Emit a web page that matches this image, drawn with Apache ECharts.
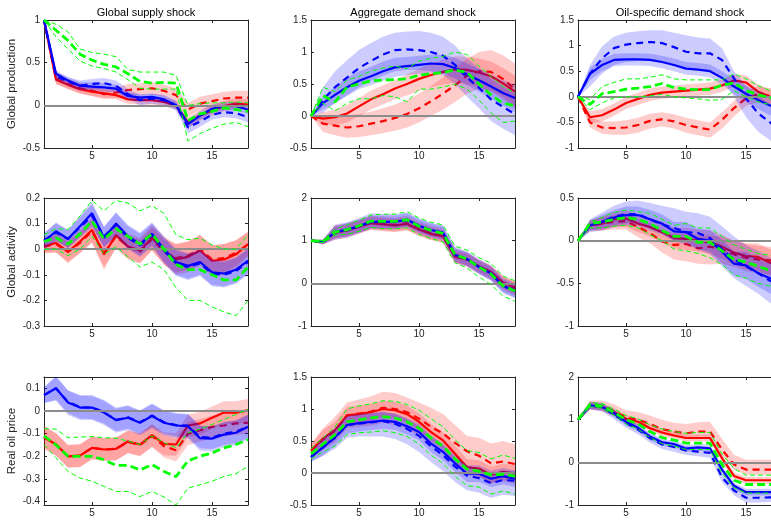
<!DOCTYPE html>
<html>
<head>
<meta charset="utf-8">
<title>Impulse responses</title>
<script src="https://cdn.jsdelivr.net/npm/echarts@6.0.0/dist/echarts.min.js"></script>
<style>
  html, body { margin: 0; padding: 0; background: #fff; }
  #chart { width: 771px; height: 527px; }
</style>
</head>
<body>
<div id="chart"></div>
<script>
// horizon (months after the shock)
const steps = [1, 2, 3, 4, 5, 6, 7, 8, 9, 10, 11, 12, 13, 14, 15, 16, 17, 18];
const xTicks = [5, 10, 15];
const columnTitles = ['Global supply shock', 'Aggregate demand shock', 'Oil-specific demand shock'];
const rowNames = ['Global production', 'Global activity', 'Real oil price'];

// naming: pRC = row R, column C; bs/bd = blue solid/dashed, rs/rd = red solid/dashed, g = green
// ---- row 1: global production ----
const p11range = [-0.5, 1], p11ticks = [-0.5, 0, 0.5, 1];
const p11bs = [1, 0.37, 0.29, 0.23, 0.22, 0.21, 0.195, 0.11, 0.09, 0.10, 0.07, 0.0, -0.22, -0.12, -0.04, -0.01, -0.01, -0.05];
const p11bsLo = [1, 0.33, 0.25, 0.19, 0.17, 0.16, 0.15, 0.07, 0.05, 0.06, 0.03, -0.04, -0.27, -0.17, -0.09, -0.06, -0.06, -0.10];
const p11bsHi = [1, 0.41, 0.33, 0.27, 0.27, 0.26, 0.24, 0.15, 0.13, 0.14, 0.11, 0.04, -0.17, -0.07, 0.01, 0.04, 0.04, 0.0];
const p11bd = [1, 0.34, 0.28, 0.23, 0.25, 0.26, 0.23, 0.13, 0.06, 0.08, 0.06, 0.0, -0.26, -0.19, -0.11, -0.08, -0.09, -0.14];
const p11bdLo = [1, 0.29, 0.23, 0.17, 0.19, 0.19, 0.17, 0.07, 0.0, 0.02, 0.0, -0.06, -0.33, -0.25, -0.17, -0.14, -0.15, -0.2];
const p11bdHi = [1, 0.39, 0.33, 0.29, 0.31, 0.32, 0.29, 0.19, 0.12, 0.14, 0.12, 0.06, -0.19, -0.12, -0.05, -0.02, -0.03, -0.08];
const p11rs = [1, 0.30, 0.24, 0.19, 0.16, 0.14, 0.12, 0.07, 0.06, 0.06, 0.04, 0.0, -0.2, -0.12, -0.06, -0.01, 0.02, 0.01];
const p11rsLo = [1, 0.25, 0.19, 0.14, 0.11, 0.09, 0.07, 0.02, 0.01, 0.01, -0.01, -0.05, -0.26, -0.18, -0.12, -0.07, -0.04, -0.05];
const p11rsHi = [1, 0.35, 0.29, 0.24, 0.21, 0.19, 0.17, 0.12, 0.11, 0.11, 0.09, 0.05, -0.14, -0.06, 0.0, 0.05, 0.08, 0.07];
const p11rd = [1, 0.31, 0.25, 0.2, 0.17, 0.13, 0.15, 0.18, 0.19, 0.2, 0.17, 0.12, -0.05, 0.02, 0.05, 0.08, 0.09, 0.09];
const p11rdLo = [1, 0.25, 0.19, 0.14, 0.11, 0.07, 0.09, 0.11, 0.12, 0.13, 0.1, 0.04, -0.13, -0.06, -0.03, 0.0, 0.01, 0.01];
const p11rdHi = [1, 0.37, 0.31, 0.26, 0.23, 0.19, 0.21, 0.25, 0.26, 0.27, 0.24, 0.2, 0.03, 0.1, 0.13, 0.16, 0.17, 0.17];
const p11g = [1, 0.88, 0.76, 0.6, 0.53, 0.48, 0.45, 0.37, 0.28, 0.26, 0.27, 0.26, -0.18, -0.1, -0.07, -0.03, -0.05, -0.07];
const p11gLo = [1, 0.8, 0.66, 0.52, 0.46, 0.43, 0.39, 0.3, 0.2, 0.19, 0.19, 0.19, -0.42, -0.33, -0.27, -0.22, -0.2, -0.25];
const p11gHi = [1, 0.95, 0.86, 0.66, 0.62, 0.6, 0.57, 0.42, 0.39, 0.39, 0.39, 0.35, 0.0, 0.02, 0.03, 0.03, 0.04, 0.03];

const p12range = [-0.5, 1.5], p12ticks = [-0.5, 0, 0.5, 1, 1.5];
const p12bs = [0, 0.2, 0.33, 0.45, 0.55, 0.62, 0.7, 0.76, 0.78, 0.8, 0.82, 0.81, 0.75, 0.65, 0.56, 0.46, 0.36, 0.28];
const p12bsLo = [0, 0.1, 0.2, 0.31, 0.42, 0.48, 0.55, 0.61, 0.64, 0.66, 0.68, 0.66, 0.59, 0.48, 0.38, 0.27, 0.16, 0.07];
const p12bsHi = [0, 0.3, 0.46, 0.6, 0.7, 0.77, 0.85, 0.91, 0.92, 0.94, 0.96, 0.96, 0.91, 0.82, 0.74, 0.65, 0.56, 0.49];
const p12bd = [0, 0.25, 0.45, 0.6, 0.75, 0.86, 0.96, 1.03, 1.04, 1.03, 1.0, 0.94, 0.8, 0.6, 0.44, 0.26, 0.14, 0.03];
const p12bdLo = [0, 0.05, 0.2, 0.33, 0.45, 0.55, 0.63, 0.7, 0.72, 0.72, 0.7, 0.64, 0.5, 0.3, 0.12, -0.08, -0.2, -0.3];
const p12bdHi = [0, 0.45, 0.7, 0.87, 1.03, 1.14, 1.24, 1.3, 1.32, 1.33, 1.3, 1.24, 1.1, 0.9, 0.75, 0.58, 0.46, 0.35];
const p12rs = [0, -0.04, -0.02, 0.04, 0.15, 0.26, 0.34, 0.43, 0.5, 0.58, 0.64, 0.69, 0.73, 0.72, 0.68, 0.62, 0.51, 0.38];
const p12rsLo = [0, -0.14, -0.14, -0.1, 0.0, 0.1, 0.18, 0.26, 0.32, 0.39, 0.45, 0.49, 0.52, 0.5, 0.45, 0.38, 0.26, 0.12];
const p12rsHi = [0, 0.06, 0.1, 0.17, 0.28, 0.4, 0.48, 0.56, 0.65, 0.74, 0.82, 0.88, 0.93, 0.93, 0.9, 0.85, 0.75, 0.63];
const p12rd = [0, -0.12, -0.15, -0.18, -0.16, -0.12, -0.08, -0.03, 0.03, 0.12, 0.23, 0.35, 0.48, 0.63, 0.7, 0.69, 0.58, 0.42];
const p12rdLo = [0, -0.25, -0.3, -0.34, -0.33, -0.3, -0.27, -0.23, -0.18, -0.1, 0.0, 0.1, 0.22, 0.35, 0.42, 0.4, 0.3, 0.14];
const p12rdHi = [0, 0.0, 0.01, 0.0, 0.03, 0.07, 0.12, 0.18, 0.25, 0.35, 0.47, 0.6, 0.75, 0.9, 1.0, 1.03, 0.95, 0.82];
const p12g = [0, 0.32, 0.22, 0.45, 0.5, 0.55, 0.56, 0.57, 0.58, 0.64, 0.66, 0.68, 0.72, 0.68, 0.5, 0.33, 0.2, 0.16];
const p12gLo = [0, 0.2, 0.08, 0.2, 0.27, 0.27, 0.32, 0.3, 0.22, 0.42, 0.42, 0.45, 0.5, 0.42, 0.25, 0.05, -0.1, -0.08];
const p12gHi = [0, 0.45, 0.38, 0.56, 0.62, 0.7, 0.75, 0.78, 0.74, 0.86, 0.9, 0.93, 1.0, 0.96, 0.78, 0.62, 0.46, 0.36];

const p13range = [-1, 1.5], p13ticks = [-1, -0.5, 0, 0.5, 1, 1.5];
const p13bs = [0, 0.45, 0.62, 0.72, 0.73, 0.73, 0.72, 0.68, 0.62, 0.55, 0.53, 0.5, 0.37, 0.2, 0.06, -0.06, -0.17, -0.22];
const p13bsLo = [0, 0.33, 0.5, 0.6, 0.61, 0.61, 0.6, 0.56, 0.5, 0.43, 0.41, 0.38, 0.24, 0.05, -0.1, -0.24, -0.36, -0.42];
const p13bsHi = [0, 0.57, 0.74, 0.84, 0.85, 0.85, 0.84, 0.8, 0.75, 0.68, 0.66, 0.63, 0.5, 0.35, 0.22, 0.12, 0.02, -0.02];
const p13bd = [0, 0.45, 0.75, 0.95, 1.02, 1.05, 1.07, 1.05, 0.97, 0.88, 0.85, 0.85, 0.72, 0.36, -0.03, -0.32, -0.5, -0.68];
const p13bdLo = [0, 0.2, 0.45, 0.62, 0.68, 0.7, 0.72, 0.7, 0.63, 0.56, 0.53, 0.5, 0.36, 0.0, -0.4, -0.68, -0.85, -1.0];
const p13bdHi = [0, 0.62, 0.98, 1.18, 1.25, 1.28, 1.3, 1.3, 1.25, 1.2, 1.16, 1.14, 0.95, 0.5, 0.22, 0.02, -0.15, -0.3];
const p13rs = [0, -0.4, -0.36, -0.25, -0.12, -0.04, 0.04, 0.08, 0.1, 0.12, 0.14, 0.16, 0.22, 0.32, 0.28, 0.1, 0.0, -0.1];
const p13rsLo = [0, -0.52, -0.48, -0.37, -0.24, -0.16, -0.08, -0.04, -0.02, 0.0, 0.02, 0.04, 0.1, 0.2, 0.14, -0.04, -0.15, -0.26];
const p13rsHi = [0, -0.28, -0.24, -0.13, 0.0, 0.08, 0.16, 0.2, 0.22, 0.24, 0.26, 0.28, 0.34, 0.44, 0.42, 0.24, 0.14, 0.06];
const p13rd = [0, -0.5, -0.6, -0.61, -0.6, -0.55, -0.47, -0.44, -0.48, -0.55, -0.6, -0.64, -0.45, -0.22, -0.03, 0.05, 0.02, -0.02];
const p13rdLo = [0, -0.6, -0.72, -0.74, -0.74, -0.7, -0.62, -0.58, -0.62, -0.7, -0.75, -0.8, -0.62, -0.38, -0.18, -0.1, -0.13, -0.17];
const p13rdHi = [0, -0.4, -0.48, -0.48, -0.46, -0.41, -0.33, -0.3, -0.34, -0.41, -0.46, -0.5, -0.3, -0.08, 0.12, 0.2, 0.17, 0.13];
const p13g = [0, -0.15, 0.06, 0.1, 0.15, 0.17, 0.2, 0.26, 0.18, 0.15, 0.14, 0.14, 0.23, 0.27, 0.12, 0.04, -0.02, -0.05];
const p13gLo = [0, -0.25, -0.12, -0.02, 0.0, 0.0, 0.02, 0.05, 0.0, -0.02, -0.04, -0.07, -0.05, 0.12, 0.0, -0.1, -0.15, -0.18];
const p13gHi = [0, -0.05, 0.2, 0.28, 0.35, 0.35, 0.38, 0.43, 0.35, 0.33, 0.33, 0.33, 0.33, 0.45, 0.35, 0.22, 0.12, 0.06];

// ---- row 2: global activity ----
const p21range = [-0.3, 0.2], p21ticks = [-0.3, -0.2, -0.1, 0, 0.1, 0.2];
const p21bs = [0.03, 0.07, 0.04, 0.09, 0.14, 0.045, 0.1, 0.05, 0.02, 0.06, 0.0, -0.05, -0.065, -0.05, -0.09, -0.095, -0.08, -0.045];
const p21bsLo = [0.0, 0.035, 0.005, 0.05, 0.095, 0.005, 0.055, 0.005, -0.025, 0.015, -0.05, -0.1, -0.115, -0.1, -0.14, -0.145, -0.13, -0.095];
const p21bsHi = [0.06, 0.105, 0.075, 0.13, 0.185, 0.085, 0.145, 0.095, 0.065, 0.105, 0.05, 0.0, -0.015, 0.0, -0.04, -0.045, -0.03, 0.005];
const p21bd = [0.035, 0.065, 0.04, 0.085, 0.13, 0.05, 0.095, 0.045, 0.015, 0.055, -0.005, -0.055, -0.07, -0.055, -0.095, -0.1, -0.085, -0.05];
const p21bdLo = [0.005, 0.03, 0.005, 0.045, 0.085, 0.01, 0.05, 0.0, -0.03, 0.01, -0.055, -0.105, -0.12, -0.105, -0.145, -0.15, -0.135, -0.1];
const p21bdHi = [0.065, 0.1, 0.075, 0.125, 0.175, 0.09, 0.14, 0.09, 0.06, 0.1, 0.045, -0.005, -0.02, -0.005, -0.045, -0.05, -0.035, 0.0];
const p21rs = [0.01, 0.025, -0.01, 0.03, 0.075, -0.02, 0.055, 0.01, -0.005, 0.045, -0.005, -0.04, -0.03, -0.005, -0.045, -0.04, -0.02, 0.02];
const p21rsLo = [-0.015, -0.01, -0.055, -0.015, 0.025, -0.08, 0.005, -0.04, -0.055, -0.005, -0.06, -0.1, -0.09, -0.065, -0.105, -0.1, -0.075, -0.03];
const p21rsHi = [0.035, 0.06, 0.035, 0.075, 0.125, 0.04, 0.105, 0.06, 0.045, 0.095, 0.05, 0.02, 0.03, 0.055, 0.015, 0.02, 0.035, 0.07];
const p21rd = [0.01, 0.02, -0.01, 0.025, 0.07, -0.015, 0.05, 0.01, -0.01, 0.04, -0.01, -0.035, -0.025, 0.0, -0.04, -0.035, -0.015, 0.02];
const p21rdLo = [-0.015, -0.015, -0.05, -0.015, 0.025, -0.07, 0.005, -0.035, -0.055, -0.005, -0.06, -0.09, -0.08, -0.055, -0.095, -0.09, -0.065, -0.025];
const p21rdHi = [0.035, 0.055, 0.03, 0.065, 0.115, 0.04, 0.095, 0.055, 0.035, 0.085, 0.04, 0.02, 0.03, 0.055, 0.015, 0.02, 0.035, 0.065];
const p21g = [0.03, 0.045, 0.02, 0.06, 0.11, 0.04, 0.08, 0.05, 0.02, 0.06, 0.0, -0.06, -0.08, -0.08, -0.1, -0.12, -0.12, -0.07];
const p21gLo = [0.0, 0.0, -0.025, 0.0, 0.05, -0.02, 0.01, -0.03, -0.07, -0.05, -0.08, -0.15, -0.2, -0.2, -0.225, -0.245, -0.26, -0.2];
const p21gHi = [0.056, 0.08, 0.077, 0.13, 0.19, 0.15, 0.19, 0.18, 0.15, 0.17, 0.14, 0.056, 0.037, 0.043, 0.017, 0.0, 0.0, 0.056];

const p22range = [-1, 2], p22ticks = [-1, 0, 1, 2];
const p22bs = [1.0, 0.97, 1.2, 1.26, 1.34, 1.44, 1.44, 1.44, 1.49, 1.35, 1.25, 1.19, 0.67, 0.57, 0.38, 0.23, -0.06, -0.18];
const p22bsLo = [0.98, 0.92, 1.06, 1.11, 1.19, 1.29, 1.29, 1.29, 1.34, 1.2, 1.1, 1.04, 0.52, 0.42, 0.23, 0.08, -0.21, -0.33];
const p22bsHi = [1.02, 1.02, 1.34, 1.41, 1.49, 1.59, 1.59, 1.59, 1.64, 1.5, 1.4, 1.34, 0.82, 0.72, 0.53, 0.38, 0.09, -0.03];
const p22bd = [1.0, 0.97, 1.2, 1.25, 1.35, 1.46, 1.45, 1.44, 1.48, 1.34, 1.24, 1.18, 0.67, 0.57, 0.39, 0.24, -0.05, -0.17];
const p22bdLo = [0.98, 0.91, 1.02, 1.07, 1.17, 1.28, 1.27, 1.26, 1.3, 1.16, 1.06, 1.0, 0.49, 0.39, 0.21, 0.06, -0.23, -0.35];
const p22bdHi = [1.02, 1.03, 1.38, 1.43, 1.53, 1.64, 1.63, 1.62, 1.66, 1.52, 1.42, 1.36, 0.85, 0.75, 0.57, 0.42, 0.13, 0.01];
const p22rs = [1.0, 0.97, 1.19, 1.24, 1.33, 1.41, 1.38, 1.36, 1.39, 1.26, 1.16, 1.1, 0.62, 0.56, 0.4, 0.27, 0.02, -0.1];
const p22rsLo = [0.98, 0.92, 1.05, 1.1, 1.19, 1.27, 1.24, 1.22, 1.25, 1.12, 1.02, 0.96, 0.48, 0.42, 0.26, 0.13, -0.12, -0.24];
const p22rsHi = [1.02, 1.02, 1.33, 1.38, 1.47, 1.55, 1.52, 1.5, 1.53, 1.4, 1.3, 1.24, 0.76, 0.7, 0.54, 0.41, 0.16, 0.04];
const p22rd = [1.0, 0.97, 1.19, 1.24, 1.33, 1.42, 1.39, 1.37, 1.41, 1.28, 1.18, 1.12, 0.64, 0.56, 0.39, 0.25, 0.0, -0.12];
const p22rdLo = [0.98, 0.91, 1.02, 1.07, 1.16, 1.25, 1.22, 1.2, 1.24, 1.11, 1.01, 0.95, 0.47, 0.39, 0.22, 0.08, -0.17, -0.29];
const p22rdHi = [1.02, 1.03, 1.36, 1.41, 1.5, 1.59, 1.56, 1.54, 1.58, 1.45, 1.35, 1.29, 0.81, 0.73, 0.56, 0.42, 0.17, 0.05];
const p22g = [1.0, 0.98, 1.2, 1.26, 1.35, 1.46, 1.45, 1.45, 1.49, 1.34, 1.24, 1.17, 0.67, 0.57, 0.38, 0.22, -0.06, -0.18];
const p22gLo = [1.0, 0.95, 1.13, 1.15, 1.22, 1.31, 1.28, 1.28, 1.3, 1.15, 1.05, 0.97, 0.48, 0.36, 0.15, -0.03, -0.3, -0.42];
const p22gHi = [1.0, 1.0, 1.27, 1.37, 1.48, 1.6, 1.62, 1.62, 1.68, 1.53, 1.43, 1.37, 0.87, 0.78, 0.6, 0.47, 0.17, 0.06];

const p23range = [-1, 0.5], p23ticks = [-1, -0.5, 0, 0.5];
const p23bs = [0, 0.18, 0.22, 0.27, 0.3, 0.3, 0.25, 0.2, 0.11, 0.1, 0.02, 0.0, -0.13, -0.27, -0.29, -0.38, -0.44, -0.5];
const p23bsLo = [0, 0.12, 0.14, 0.18, 0.2, 0.2, 0.14, 0.09, 0.0, -0.02, -0.1, -0.13, -0.27, -0.41, -0.45, -0.54, -0.62, -0.68];
const p23bsHi = [0, 0.24, 0.3, 0.36, 0.4, 0.4, 0.36, 0.31, 0.22, 0.22, 0.14, 0.13, 0.01, -0.13, -0.13, -0.22, -0.26, -0.32];
const p23bd = [0, 0.18, 0.22, 0.28, 0.31, 0.31, 0.25, 0.19, 0.15, 0.1, 0.09, 0.03, -0.1, -0.22, -0.3, -0.38, -0.47, -0.52];
const p23bdLo = [0, 0.1, 0.12, 0.16, 0.18, 0.17, 0.12, 0.07, 0.0, -0.05, -0.1, -0.16, -0.3, -0.44, -0.53, -0.62, -0.73, -0.78];
const p23bdHi = [0, 0.25, 0.33, 0.41, 0.46, 0.47, 0.44, 0.41, 0.38, 0.34, 0.32, 0.28, 0.17, 0.05, -0.05, -0.12, -0.2, -0.25];
const p23rs = [0, 0.18, 0.2, 0.25, 0.26, 0.2, 0.16, 0.1, 0.03, 0.02, 0.0, -0.02, -0.07, -0.14, -0.18, -0.19, -0.26, -0.27];
const p23rsLo = [0, 0.12, 0.12, 0.16, 0.16, 0.1, 0.05, -0.02, -0.09, -0.11, -0.13, -0.16, -0.21, -0.28, -0.33, -0.35, -0.42, -0.44];
const p23rsHi = [0, 0.24, 0.28, 0.34, 0.36, 0.3, 0.27, 0.22, 0.15, 0.15, 0.13, 0.12, 0.07, 0.0, -0.03, -0.03, -0.1, -0.1];
const p23rd = [0, 0.18, 0.2, 0.22, 0.23, 0.16, 0.09, -0.01, -0.05, -0.04, -0.09, -0.07, -0.1, -0.16, -0.2, -0.22, -0.23, -0.25];
const p23rdLo = [0, 0.12, 0.12, 0.13, 0.13, 0.04, -0.03, -0.14, -0.22, -0.24, -0.27, -0.28, -0.27, -0.31, -0.36, -0.38, -0.4, -0.42];
const p23rdHi = [0, 0.24, 0.27, 0.3, 0.32, 0.25, 0.2, 0.11, 0.08, 0.09, 0.06, 0.06, 0.05, 0.0, -0.04, -0.06, -0.07, -0.08];
const p23g = [0, 0.2, 0.22, 0.25, 0.27, 0.25, 0.2, 0.12, 0.05, 0.05, -0.02, -0.02, -0.12, -0.22, -0.25, -0.3, -0.35, -0.37];
const p23gLo = [0, 0.15, 0.15, 0.17, 0.18, 0.15, 0.07, 0.0, -0.1, -0.12, -0.15, -0.2, -0.28, -0.4, -0.44, -0.5, -0.53, -0.55];
const p23gHi = [0, 0.22, 0.27, 0.33, 0.36, 0.34, 0.32, 0.25, 0.18, 0.2, 0.15, 0.15, 0.05, -0.05, -0.1, -0.15, -0.17, -0.2];

// ---- row 3: real oil price ----
const p31range = [-0.415, 0.15], p31ticks = [-0.4, -0.3, -0.2, -0.1, 0, 0.1];
const p31bs = [0.07, 0.1, 0.037, 0.015, 0.015, -0.007, -0.04, -0.03, -0.052, -0.022, -0.052, -0.064, -0.067, -0.12, -0.122, -0.104, -0.096, -0.07];
const p31bsLo = [0.035, 0.045, -0.018, -0.04, -0.04, -0.062, -0.095, -0.085, -0.107, -0.077, -0.107, -0.119, -0.122, -0.175, -0.177, -0.159, -0.151, -0.125];
const p31bsHi = [0.105, 0.155, 0.092, 0.07, 0.07, 0.048, 0.015, 0.025, 0.003, 0.033, 0.003, -0.009, -0.012, -0.065, -0.067, -0.049, -0.041, -0.015];
const p31bd = [0.07, 0.1, 0.04, 0.017, 0.015, -0.005, -0.04, -0.028, -0.05, -0.02, -0.05, -0.062, -0.065, -0.115, -0.118, -0.1, -0.092, -0.068];
const p31bdLo = [0.035, 0.05, -0.01, -0.033, -0.035, -0.055, -0.09, -0.078, -0.1, -0.07, -0.1, -0.112, -0.115, -0.165, -0.168, -0.15, -0.142, -0.118];
const p31bdHi = [0.105, 0.15, 0.09, 0.067, 0.065, 0.045, 0.01, 0.022, 0.0, 0.03, 0.0, -0.012, -0.015, -0.065, -0.068, -0.05, -0.042, -0.018];
const p31rs = [-0.116, -0.148, -0.2, -0.197, -0.163, -0.17, -0.167, -0.135, -0.148, -0.107, -0.145, -0.148, -0.064, -0.055, -0.03, -0.007, -0.007, 0.003];
const p31rsLo = [-0.166, -0.198, -0.25, -0.247, -0.213, -0.22, -0.217, -0.185, -0.198, -0.157, -0.195, -0.198, -0.114, -0.105, -0.08, -0.057, -0.057, -0.047];
const p31rsHi = [-0.066, -0.098, -0.15, -0.147, -0.113, -0.12, -0.117, -0.085, -0.098, -0.057, -0.095, -0.098, -0.014, -0.005, 0.02, 0.043, 0.043, 0.053];
const p31rd = [-0.116, -0.148, -0.2, -0.197, -0.163, -0.17, -0.167, -0.137, -0.15, -0.11, -0.155, -0.173, -0.1, -0.085, -0.07, -0.064, -0.055, -0.052];
const p31rdLo = [-0.166, -0.198, -0.25, -0.247, -0.213, -0.22, -0.217, -0.187, -0.2, -0.16, -0.205, -0.223, -0.15, -0.135, -0.12, -0.114, -0.105, -0.102];
const p31rdHi = [-0.066, -0.098, -0.15, -0.147, -0.113, -0.12, -0.117, -0.087, -0.1, -0.06, -0.105, -0.123, -0.05, -0.035, -0.02, -0.014, -0.005, -0.002];
const p31g = [-0.11, -0.15, -0.2, -0.2, -0.2, -0.215, -0.24, -0.24, -0.26, -0.237, -0.267, -0.29, -0.22, -0.2, -0.185, -0.163, -0.148, -0.126];
const p31gLo = [-0.148, -0.207, -0.267, -0.296, -0.31, -0.333, -0.355, -0.355, -0.378, -0.355, -0.38, -0.415, -0.34, -0.326, -0.31, -0.289, -0.277, -0.244];
const p31gHi = [-0.078, -0.08, -0.118, -0.115, -0.113, -0.118, -0.12, -0.133, -0.148, -0.11, -0.14, -0.163, -0.096, -0.08, -0.06, -0.037, -0.015, 0.007];

const p32range = [-0.5, 1.5], p32ticks = [-0.5, 0, 0.5, 1, 1.5];
const p32bs = [0.25, 0.4, 0.56, 0.75, 0.78, 0.8, 0.82, 0.8, 0.73, 0.64, 0.46, 0.33, 0.15, -0.01, -0.01, -0.09, -0.05, -0.09];
const p32bsLo = [0.17, 0.27, 0.43, 0.62, 0.65, 0.67, 0.69, 0.67, 0.6, 0.51, 0.33, 0.2, 0.02, -0.14, -0.14, -0.22, -0.18, -0.22];
const p32bsHi = [0.33, 0.53, 0.69, 0.88, 0.91, 0.93, 0.95, 0.93, 0.86, 0.77, 0.59, 0.46, 0.28, 0.12, 0.12, 0.04, 0.08, 0.04];
const p32bd = [0.25, 0.4, 0.55, 0.75, 0.77, 0.79, 0.81, 0.77, 0.69, 0.58, 0.42, 0.28, 0.1, -0.04, -0.08, -0.16, -0.11, -0.12];
const p32bdLo = [0.18, 0.27, 0.38, 0.55, 0.57, 0.57, 0.57, 0.53, 0.45, 0.33, 0.17, 0.03, -0.14, -0.27, -0.31, -0.39, -0.34, -0.36];
const p32bdHi = [0.32, 0.55, 0.7, 0.9, 0.92, 0.94, 0.96, 0.92, 0.84, 0.73, 0.57, 0.43, 0.25, 0.11, 0.07, -0.01, 0.04, 0.03];
const p32rs = [0.35, 0.54, 0.67, 0.9, 0.92, 0.95, 1.0, 0.98, 0.92, 0.8, 0.64, 0.51, 0.3, 0.09, 0.07, -0.03, 0.02, -0.01];
const p32rsLo = [0.25, 0.41, 0.54, 0.77, 0.79, 0.82, 0.87, 0.85, 0.79, 0.67, 0.51, 0.38, 0.17, -0.04, -0.06, -0.16, -0.11, -0.14];
const p32rsHi = [0.45, 0.67, 0.8, 1.03, 1.05, 1.08, 1.13, 1.11, 1.05, 0.93, 0.77, 0.64, 0.43, 0.22, 0.2, 0.1, 0.15, 0.12];
const p32rd = [0.35, 0.52, 0.66, 0.9, 0.93, 0.96, 1.02, 1.0, 0.95, 0.85, 0.72, 0.62, 0.47, 0.34, 0.27, 0.15, 0.18, 0.14];
const p32rdLo = [0.22, 0.36, 0.48, 0.7, 0.72, 0.74, 0.78, 0.75, 0.69, 0.58, 0.44, 0.33, 0.17, 0.03, -0.05, -0.16, -0.13, -0.17];
const p32rdHi = [0.45, 0.7, 0.88, 1.1, 1.15, 1.2, 1.27, 1.25, 1.18, 1.1, 1.02, 0.92, 0.75, 0.58, 0.55, 0.46, 0.5, 0.45];
const p32g = [0.3, 0.45, 0.6, 0.8, 0.83, 0.86, 0.88, 0.86, 0.8, 0.7, 0.55, 0.42, 0.22, 0.06, 0.03, -0.03, -0.02, -0.05];
const p32gLo = [0.22, 0.33, 0.42, 0.6, 0.63, 0.64, 0.66, 0.63, 0.57, 0.45, 0.28, 0.15, -0.05, -0.2, -0.22, -0.33, -0.28, -0.33];
const p32gHi = [0.38, 0.55, 0.72, 1.0, 1.05, 1.08, 1.13, 1.12, 1.07, 0.98, 0.85, 0.72, 0.52, 0.35, 0.32, 0.22, 0.28, 0.23];

const p33range = [-1, 2], p33ticks = [-1, 0, 1, 2];
const p33bs = [1.0, 1.33, 1.3, 1.15, 0.95, 0.81, 0.6, 0.47, 0.43, 0.32, 0.35, 0.33, -0.17, -0.55, -0.7, -0.7, -0.7, -0.7];
const p33bsLo = [0.97, 1.25, 1.22, 1.07, 0.87, 0.73, 0.52, 0.39, 0.35, 0.24, 0.27, 0.25, -0.25, -0.63, -0.78, -0.78, -0.78, -0.78];
const p33bsHi = [1.03, 1.41, 1.38, 1.23, 1.03, 0.89, 0.68, 0.55, 0.51, 0.4, 0.43, 0.41, -0.09, -0.47, -0.62, -0.62, -0.62, -0.62];
const p33bd = [1.0, 1.33, 1.3, 1.12, 0.92, 0.77, 0.57, 0.42, 0.36, 0.28, 0.25, 0.22, -0.35, -0.66, -0.83, -0.83, -0.82, -0.82];
const p33bdLo = [0.97, 1.24, 1.2, 1.01, 0.81, 0.66, 0.46, 0.31, 0.25, 0.17, 0.14, 0.11, -0.46, -0.77, -0.94, -0.94, -0.93, -0.93];
const p33bdHi = [1.03, 1.42, 1.39, 1.22, 1.02, 0.87, 0.67, 0.52, 0.46, 0.38, 0.35, 0.32, -0.25, -0.56, -0.73, -0.73, -0.72, -0.72];
const p33rs = [1.0, 1.33, 1.3, 1.18, 1.02, 0.95, 0.8, 0.7, 0.63, 0.57, 0.57, 0.57, 0.1, -0.32, -0.42, -0.42, -0.42, -0.42];
const p33rsLo = [0.97, 1.25, 1.22, 1.1, 0.94, 0.87, 0.72, 0.62, 0.55, 0.49, 0.49, 0.49, 0.02, -0.4, -0.5, -0.5, -0.5, -0.5];
const p33rsHi = [1.03, 1.41, 1.38, 1.26, 1.1, 1.03, 0.88, 0.78, 0.71, 0.65, 0.65, 0.65, 0.18, -0.24, -0.34, -0.34, -0.34, -0.34];
const p33rd = [1.0, 1.33, 1.32, 1.2, 1.05, 1.0, 0.9, 0.78, 0.72, 0.68, 0.72, 0.72, 0.3, -0.05, -0.17, -0.17, -0.17, -0.17];
const p33rdLo = [0.97, 1.23, 1.2, 1.08, 0.93, 0.88, 0.78, 0.66, 0.6, 0.56, 0.6, 0.6, 0.18, -0.17, -0.29, -0.29, -0.29, -0.29];
const p33rdHi = [1.03, 1.45, 1.45, 1.36, 1.22, 1.18, 1.1, 1.0, 0.93, 0.9, 0.94, 0.95, 0.55, 0.18, 0.06, 0.06, 0.06, 0.06];
const p33g = [1.0, 1.35, 1.32, 1.17, 1.0, 0.9, 0.72, 0.58, 0.52, 0.45, 0.45, 0.45, -0.05, -0.42, -0.52, -0.52, -0.52, -0.52];
const p33gLo = [1.0, 1.3, 1.27, 1.1, 0.9, 0.78, 0.58, 0.44, 0.38, 0.3, 0.3, 0.3, -0.25, -0.6, -0.72, -0.72, -0.72, -0.72];
const p33gHi = [1.0, 1.4, 1.38, 1.25, 1.1, 1.02, 0.88, 0.78, 0.72, 0.68, 0.7, 0.7, 0.2, -0.15, -0.3, -0.3, -0.3, -0.3];

const panels = [
  { range: p11range, ticks: p11ticks, bs: [p11bs, p11bsLo, p11bsHi], bd: [p11bd, p11bdLo, p11bdHi], rs: [p11rs, p11rsLo, p11rsHi], rd: [p11rd, p11rdLo, p11rdHi], g: [p11g, p11gLo, p11gHi] },
  { range: p12range, ticks: p12ticks, bs: [p12bs, p12bsLo, p12bsHi], bd: [p12bd, p12bdLo, p12bdHi], rs: [p12rs, p12rsLo, p12rsHi], rd: [p12rd, p12rdLo, p12rdHi], g: [p12g, p12gLo, p12gHi] },
  { range: p13range, ticks: p13ticks, bs: [p13bs, p13bsLo, p13bsHi], bd: [p13bd, p13bdLo, p13bdHi], rs: [p13rs, p13rsLo, p13rsHi], rd: [p13rd, p13rdLo, p13rdHi], g: [p13g, p13gLo, p13gHi] },
  { range: p21range, ticks: p21ticks, bs: [p21bs, p21bsLo, p21bsHi], bd: [p21bd, p21bdLo, p21bdHi], rs: [p21rs, p21rsLo, p21rsHi], rd: [p21rd, p21rdLo, p21rdHi], g: [p21g, p21gLo, p21gHi] },
  { range: p22range, ticks: p22ticks, bs: [p22bs, p22bsLo, p22bsHi], bd: [p22bd, p22bdLo, p22bdHi], rs: [p22rs, p22rsLo, p22rsHi], rd: [p22rd, p22rdLo, p22rdHi], g: [p22g, p22gLo, p22gHi] },
  { range: p23range, ticks: p23ticks, bs: [p23bs, p23bsLo, p23bsHi], bd: [p23bd, p23bdLo, p23bdHi], rs: [p23rs, p23rsLo, p23rsHi], rd: [p23rd, p23rdLo, p23rdHi], g: [p23g, p23gLo, p23gHi] },
  { range: p31range, ticks: p31ticks, bs: [p31bs, p31bsLo, p31bsHi], bd: [p31bd, p31bdLo, p31bdHi], rs: [p31rs, p31rsLo, p31rsHi], rd: [p31rd, p31rdLo, p31rdHi], g: [p31g, p31gLo, p31gHi] },
  { range: p32range, ticks: p32ticks, bs: [p32bs, p32bsLo, p32bsHi], bd: [p32bd, p32bdLo, p32bdHi], rs: [p32rs, p32rsLo, p32rsHi], rd: [p32rd, p32rdLo, p32rdHi], g: [p32g, p32gLo, p32gHi] },
  { range: p33range, ticks: p33ticks, bs: [p33bs, p33bsLo, p33bsHi], bd: [p33bd, p33bdLo, p33bdHi], rs: [p33rs, p33rsLo, p33rsHi], rd: [p33rd, p33rdLo, p33rdHi], g: [p33g, p33gLo, p33gHi] }
];

const FONT = 'Liberation Sans, Arial, Helvetica, sans-serif';
const AXIS_COLOR = '#262626';
const colLeft = [44, 311, 578];
const rowTop = [20, 198, 377];
const plotW = 204, plotH = 128;

const chart = echarts.init(document.getElementById('chart'), null, { renderer: 'canvas' });

const grids = [], xAxes = [], yAxes = [], series = [];

function toPoints(vals) {
  return steps.map((x, i) => [x, vals[i]]);
}

function bandSeries(gi, lo, hi, fill, z) {
  return {
    type: 'custom', xAxisIndex: 2 * gi, yAxisIndex: 2 * gi, z: z, silent: true, clip: true,
    animation: false,
    data: [[steps[0], lo[0]]],
    renderItem: function (params, api) {
      const pts = [];
      for (let i = 0; i < steps.length; i++) pts.push(api.coord([steps[i], hi[i]]));
      for (let i = steps.length - 1; i >= 0; i--) pts.push(api.coord([steps[i], lo[i]]));
      return { type: 'polygon', shape: { points: pts }, style: { fill: fill } };
    }
  };
}

function lineSeries(gi, vals, color, width, dash, z) {
  return {
    type: 'line', xAxisIndex: 2 * gi, yAxisIndex: 2 * gi, z: z, silent: true,
    animation: false, symbol: 'none', showSymbol: false, clip: true,
    data: toPoints(vals),
    lineStyle: { color: color, width: width, type: dash || 'solid' }
  };
}

panels.forEach(function (p, gi) {
  const row = Math.floor(gi / 3), col = gi % 3;
  grids.push({ left: colLeft[col], top: rowTop[row], width: plotW, height: plotH, show: false, outerBoundsMode: 'none', containLabel: false });

  const tickStyle = { show: true, inside: true, length: 3, lineStyle: { color: AXIS_COLOR, width: 1 } };
  const lineStyle = { show: true, onZero: false, lineStyle: { color: AXIS_COLOR, width: 1 } };

  xAxes.push({
    type: 'value', gridIndex: gi, min: 1, max: 18, position: 'bottom',
    axisLine: lineStyle, splitLine: { show: false },
    axisTick: Object.assign({ customValues: xTicks }, tickStyle),
    axisLabel: { customValues: xTicks, fontSize: 10, color: AXIS_COLOR, fontFamily: FONT, margin: 3 }
  });
  const topAxis = {
    type: 'value', gridIndex: gi, min: 1, max: 18, position: 'top',
    axisLine: lineStyle, splitLine: { show: false },
    axisTick: Object.assign({ customValues: xTicks }, tickStyle),
    axisLabel: { show: false }
  };
  if (row === 0) {
    topAxis.name = columnTitles[col];
    topAxis.nameLocation = 'middle';
    topAxis.nameGap = 2;
    topAxis.nameTextStyle = { fontSize: 11, color: '#000', fontFamily: FONT };
  }
  xAxes.push(topAxis);

  const leftAxis = {
    type: 'value', gridIndex: gi, min: p.range[0], max: p.range[1], position: 'left',
    axisLine: lineStyle, splitLine: { show: false },
    axisTick: Object.assign({ customValues: p.ticks }, tickStyle),
    axisLabel: { customValues: p.ticks, fontSize: 10, color: AXIS_COLOR, fontFamily: FONT, margin: 4 }
  };
  if (col === 0) {
    leftAxis.name = rowNames[row];
    leftAxis.nameLocation = 'middle';
    leftAxis.nameGap = 26;
    leftAxis.nameTextStyle = { fontSize: 11.5, color: AXIS_COLOR, fontFamily: FONT };
  }
  yAxes.push(leftAxis);
  yAxes.push({
    type: 'value', gridIndex: gi, min: p.range[0], max: p.range[1], position: 'right',
    axisLine: lineStyle, splitLine: { show: false },
    axisTick: Object.assign({ customValues: p.ticks }, tickStyle),
    axisLabel: { show: false }
  });

  // red model first, then blue drawn over it, green on top
  series.push(bandSeries(gi, p.rs[1], p.rs[2], 'rgba(255,0,0,0.2)', 1));
  series.push(bandSeries(gi, p.rd[1], p.rd[2], 'rgba(255,0,0,0.2)', 1));
  series.push(lineSeries(gi, p.rs[0], '#ff0000', 2.2, null, 2));
  series.push(lineSeries(gi, p.rd[0], '#ff0000', 2.2, [7, 5], 2));
  series.push(bandSeries(gi, p.bs[1], p.bs[2], 'rgba(0,0,255,0.2)', 3));
  series.push(bandSeries(gi, p.bd[1], p.bd[2], 'rgba(0,0,255,0.2)', 3));
  series.push(lineSeries(gi, p.bs[0], '#0000ff', 2.2, null, 4));
  series.push(lineSeries(gi, p.bd[0], '#0000ff', 2.2, [7, 5], 4));
  series.push(lineSeries(gi, p.g[1], '#00ff00', 1, [5, 3], 5));
  series.push(lineSeries(gi, p.g[2], '#00ff00', 1, [5, 3], 5));
  const gMain = lineSeries(gi, p.g[0], '#00ff00', 2.8, [8, 4], 5);
  gMain.markLine = {
    silent: true, symbol: 'none', animation: false, label: { show: false },
    lineStyle: { color: '#8c8c8c', width: 2, type: 'solid' },
    data: [{ yAxis: 0 }]
  };
  series.push(gMain);
});

chart.setOption({
  animation: false,
  backgroundColor: '#ffffff',
  grid: grids,
  xAxis: xAxes,
  yAxis: yAxes,
  series: series
});
</script>
</body>
</html>
